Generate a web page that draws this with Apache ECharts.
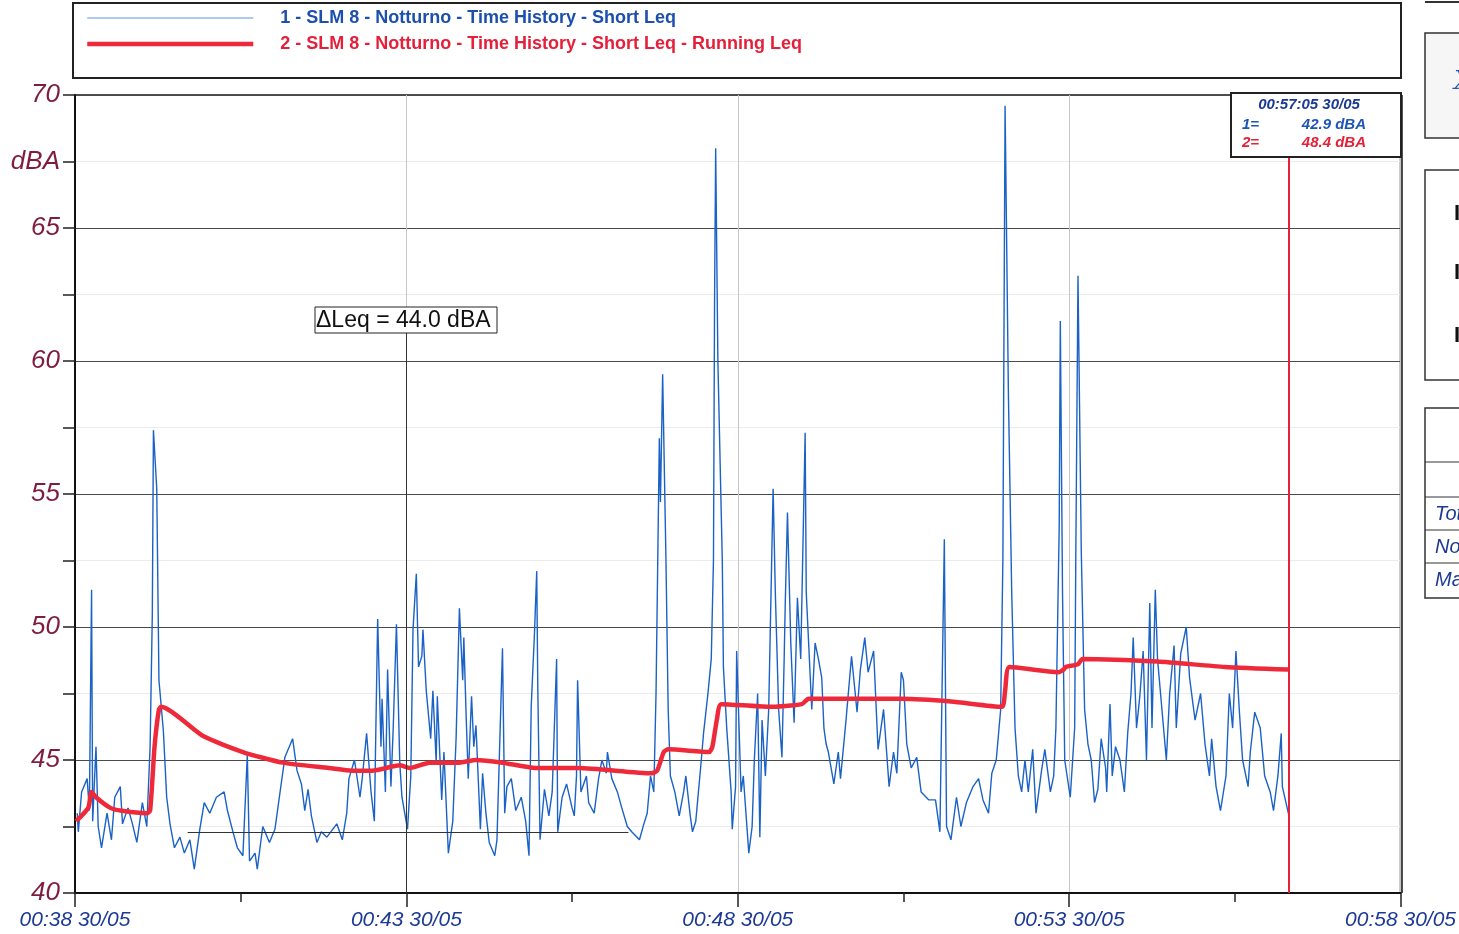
<!DOCTYPE html>
<html>
<head>
<meta charset="utf-8">
<script src="https://cdn.jsdelivr.net/npm/echarts@6/dist/echarts.min.js"></script>
<style>
  html, body { margin: 0; padding: 0; background: #fff; }
  #chart { width: 1459px; height: 934px; }
</style>
</head>
<body>
<div id="chart"></div>
<script>
// seconds from 00:38:00 (30/05)
var blueTime = [2,3,6,11,13,15,16,19,21,24,29,33,36,41,43,48,52,56,61,65,68,70,71,74,76,80,83,86,90,95,99,104,108,113,117,122,128,135,138,143,147,152,156,158,163,165,170,176,181,185,190,194,197,201,205,208,211,214,219,223,228,
  237,242,246,248,253,258,260,264,268,271,274,277,278,281,283,286,288,291,294,296,301,304,306,309,311,314,315,318,322,324,327,328,332,334,338,342,345,348,351,352,354,356,359,361,363,367,369,372,375,380,382,387,389,391,395,399,404,408,411,413,416,418,419,421,425,429,432,436,437,441,445,450,
  452,454,455,458,463,465,470,474,477,481,482,486,491,495,500,504,511,515,518,521,524,526,529,530,532,535,537,539,543,547,551,553,557,559,562,567,569,573,576,578,579,580,582,586,587,590,594,595,598,599,603,605,610,613,615,618,620,622,625,628,632,634,637,640,642,643,645,648,651,654,657,661,662,667,670,
  673,676,678,680,682,687,691,693,698,703,708,711,715,718,723,727,732,737,741,744,748,750,753,757,762,766,773,779,783,787,789,793,798,802,807,813,818,822,827,830,834,838,840,842,845,848,851,854,857,860,863,867,870,875,878,883,886,888,891,892,894,896,901,905,906,908,911,914,917,920,923,926,929,933,934,937,939,942,946,950,953,956,958,961,964,967,970,973,975,978,980,984,988,991,995,997,1001,1006,1009,1014,1019,1023,1027,1029,1033,1037,1042,1045,1048,1051,1054,1057,1062,1064,1068,1073,1077,1082,1085,1089,1092,1093,1099];
var blueLevel = [43.0,42.3,43.8,44.3,43.1,51.4,42.7,45.5,42.5,41.7,43.0,42.0,43.6,44.0,42.6,43.2,42.6,41.9,43.4,42.5,45.5,50.5,57.4,55.2,48.0,46.1,43.6,42.6,41.7,42.1,41.5,42.0,40.9,42.4,43.4,43.0,43.6,43.8,43.1,42.3,41.7,41.4,45.2,41.2,41.5,40.9,42.5,41.9,42.4,43.6,45.1,45.5,45.8,44.6,44.1,43.1,43.9,42.9,41.9,42.3,42.1,
  42.6,42.0,43.0,44.3,45.0,43.6,44.3,46.0,43.8,42.7,50.3,45.5,47.3,43.8,48.4,44.0,46.1,50.1,44.9,43.6,42.4,44.4,49.9,52.0,48.5,48.9,49.9,47.6,45.8,47.6,44.9,47.4,43.5,45.3,41.5,42.7,45.8,50.7,48.0,49.6,46.8,44.3,47.4,45.5,46.3,42.4,44.5,43.0,41.9,41.4,42.0,49.2,43.0,44.0,44.3,43.1,43.6,42.7,41.4,47.0,49.8,52.1,47.6,42.0,43.9,42.9,43.8,48.8,42.3,43.6,44.1,43.2,
  42.9,44.4,48.0,43.8,44.4,43.4,43.0,44.3,45.0,44.5,45.3,44.3,43.8,43.2,42.5,42.3,42.0,42.6,43.0,44.4,43.8,47.5,57.1,54.7,59.5,52.5,46.9,44.4,43.8,42.9,43.8,44.4,42.9,42.3,42.7,45.0,46.0,47.5,48.8,52.5,62.3,68.0,60.0,52.5,48.5,46.2,43.8,42.4,44.0,49.1,43.8,44.4,41.5,42.5,45.0,47.5,42.1,46.5,44.4,46.9,55.2,51.3,46.9,45.1,48.8,50.9,54.3,49.4,46.4,51.1,48.8,57.3,51.3,46.9,49.4,
  48.8,48.1,46.2,45.6,45.3,44.1,45.3,44.3,46.5,48.9,46.8,48.4,49.6,48.3,49.1,45.4,46.9,44.0,45.3,44.5,48.3,48.0,45.6,44.7,45.1,43.8,43.5,43.5,42.3,53.3,42.5,42.0,43.6,42.5,43.4,44.0,44.3,43.5,43.0,44.5,45.0,46.9,52.5,69.6,58.8,51.3,46.2,44.4,43.8,45.0,43.8,45.4,43.0,44.6,45.4,43.8,44.4,46.2,53.8,61.5,51.3,45.0,43.6,46.2,52.5,63.2,52.8,46.9,45.6,45.0,43.4,43.9,45.8,44.7,43.8,47.1,44.4,45.5,45.0,43.8,46.0,47.5,49.6,46.2,47.4,49.1,45.0,50.9,46.2,51.4,48.8,46.9,45.0,47.5,49.3,46.2,49.0,50.0,48.1,46.5,47.5,45.6,44.4,45.8,44.0,43.1,44.4,47.5,46.2,49.1,46.9,45.0,44.0,45.3,46.8,46.2,44.4,43.8,43.1,44.4,46.0,44.0,42.9];

var redTime = [1,12,15,19,32,41,65,68,72,76,78,116,152,188,230,251,269,294,303,321,348,363,387,417,456,522,527,533,537,574,577,581,585,628,658,664,682,748,793,839,842,846,890,895,897,908,912,980,1041,1099];
var redLevel = [42.7,43.2,43.8,43.6,43.2,43.1,43.0,43.1,45.5,46.9,47.0,45.9,45.3,44.9,44.7,44.6,44.6,44.8,44.7,44.9,44.9,45.0,44.9,44.7,44.7,44.5,44.6,45.3,45.4,45.3,45.5,46.5,47.1,47.0,47.1,47.3,47.3,47.3,47.2,47.0,47.6,48.5,48.3,48.4,48.5,48.6,48.8,48.7,48.5,48.4];

var cursorTime = 1099;
var cursorLabel = '00:57:05 30/05';
var cursorValues = ['42.9 dBA', '48.4 dBA'];
var deltaText = '\u0394Leq = 44.0 dBA';
var name1 = '1 - SLM 8 - Notturno - Time History - Short Leq';
var name2 = '2 - SLM 8 - Notturno - Time History - Short Leq - Running Leq';

var FONT = 'Liberation Sans, Arial, sans-serif';

function pairs(t, v) {
  return t.map(function (s, i) { return [s, v[i]]; });
}

var chart = echarts.init(document.getElementById('chart'), null, { renderer: 'canvas' });

var option = {
  animation: false,
  backgroundColor: '#fff',
  grid: {
    left: 75, right: 57, top: 95, bottom: 41,
    show: true, borderColor: '#1a1a1a', borderWidth: 1.5
  },
  legend: {
    orient: 'vertical',
    left: 80, top: 4,
    itemWidth: 166, itemHeight: 14, itemGap: 8,
    textStyle: { fontFamily: FONT, fontSize: 18, fontWeight: 'bold', padding: [0, 0, 0, 22] },
    data: [
      { name: name1, textStyle: { color: '#1d4fae' }, itemStyle: { opacity: 0 }, lineStyle: { width: 1, color: '#5b95dc' } },
      { name: name2, textStyle: { color: '#e4203a' }, itemStyle: { opacity: 0 }, lineStyle: { width: 4.5, color: '#ee2a3a' } }
    ]
  },
  xAxis: {
    type: 'value', min: 0, max: 1200, interval: 300,
    axisLine: { lineStyle: { color: '#111', width: 2 } },
    axisTick: { length: 14, lineStyle: { color: '#222', width: 1.5 } },
    minorTick: { show: true, splitNumber: 2, length: 9, lineStyle: { color: '#222', width: 1.5 } },
    splitLine: { show: true, lineStyle: { color: '#c6c6c6', width: 1 } },
    axisLabel: {
      margin: 17, color: '#1c3a94', fontFamily: FONT, fontSize: 21, fontStyle: 'italic',
      formatter: function (s) {
        var m = 38 + Math.round(s / 60);
        return '00:' + m + ' 30/05';
      }
    }
  },
  yAxis: {
    type: 'value', min: 40, max: 70, interval: 2.5,
    axisLine: { show: true, lineStyle: { color: '#111', width: 2 } },
    axisTick: { show: true, length: 12, lineStyle: { color: '#222', width: 1.5 } },
    splitLine: { show: true, lineStyle: { color: ['#4a4a4a', '#ececec'], width: 1 } },
    axisLabel: {
      margin: 15, color: '#7e1d3d', fontFamily: FONT, fontSize: 26, fontStyle: 'italic',
      formatter: function (v) {
        if (v === 67.5) return 'dBA';
        return v % 5 === 0 ? String(v) : '';
      }
    }
  },
  series: [
    {
      name: name1, type: 'line', data: pairs(blueTime, blueLevel),
      symbol: 'none', showSymbol: false,
      lineStyle: { color: '#1a62c6', width: 1.4 },
      itemStyle: { color: '#1a62c6' },
      z: 3,
      markLine: {
        silent: true, symbol: 'none', label: { show: false },
        lineStyle: { color: '#333', width: 1, type: 'solid' },
        data: [
          [{ coord: [300, 61.05] }, { coord: [300, 40] }],
          [{ coord: [102, 42.3] }, { coord: [501, 42.3] }]
        ]
      }
    },
    {
      name: name2, type: 'line', data: pairs(redTime, redLevel),
      symbol: 'none', showSymbol: false, smooth: 0.2,
      lineStyle: { color: '#ee2a3a', width: 4.5 },
      itemStyle: { color: '#ee2a3a' },
      z: 4,
      markLine: {
        silent: true, symbol: 'none', label: { show: false },
        lineStyle: { color: '#e8213a', width: 2, type: 'solid' },
        data: [[{ coord: [cursorTime, 67.67] }, { coord: [cursorTime, 40] }]]
      }
    }
  ],
  graphic: [
    // legend frame
    { type: 'rect', z: 1, shape: { x: 73, y: 3, width: 1328, height: 75 },
      style: { fill: 'none', stroke: '#222', lineWidth: 2 } },
    // right edge of the plot frame (drawn over the last grid line)
    { type: 'line', z: 50, shape: { x1: 1402, y1: 95, x2: 1402, y2: 893 },
      style: { stroke: '#1a1a1a', lineWidth: 1.5 } },
    // cursor read-out
    { type: 'rect', z: 100, shape: { x: 1231, y: 93, width: 170, height: 64 },
      style: { fill: '#fff', stroke: '#222', lineWidth: 2 } },
    { type: 'text', z: 101, x: 1309, y: 105, style: { text: cursorLabel, fill: '#1c3a94', font: 'italic bold 15px ' + FONT, textAlign: 'center', textVerticalAlign: 'middle' } },
    { type: 'text', z: 101, x: 1242, y: 125, style: { text: '1=', fill: '#1d55b8', font: 'italic bold 15px ' + FONT, textVerticalAlign: 'middle' } },
    { type: 'text', z: 101, x: 1366, y: 125, style: { text: cursorValues[0], fill: '#1d55b8', font: 'italic bold 15px ' + FONT, textAlign: 'right', textVerticalAlign: 'middle' } },
    { type: 'text', z: 101, x: 1242, y: 143, style: { text: '2=', fill: '#e4203a', font: 'italic bold 15px ' + FONT, textVerticalAlign: 'middle' } },
    { type: 'text', z: 101, x: 1366, y: 143, style: { text: cursorValues[1], fill: '#e4203a', font: 'italic bold 15px ' + FONT, textAlign: 'right', textVerticalAlign: 'middle' } },
    // delta Leq box
    { type: 'rect', z: 100, shape: { x: 315, y: 307, width: 182, height: 26 },
      style: { fill: '#fff', stroke: '#222', lineWidth: 1 } },
    { type: 'text', z: 101, x: 316, y: 321, style: { text: deltaText, fill: '#111', font: '23px ' + FONT, textVerticalAlign: 'middle' } },
    // side panels (cut off at the right edge)
    { type: 'line', shape: { x1: 1425, y1: 2, x2: 1459, y2: 2 }, style: { stroke: '#333', lineWidth: 2 } },
    { type: 'rect', shape: { x: 1425, y: 33, width: 60, height: 105 }, style: { fill: '#f6f6f6', stroke: '#333', lineWidth: 1.5 } },
    { type: 'text', x: 1454, y: 82, style: { text: 'X', fill: '#1d55b8', font: 'italic 26px DejaVu Serif, serif', textVerticalAlign: 'middle' } },
    { type: 'rect', shape: { x: 1425, y: 170, width: 60, height: 210 }, style: { fill: '#fff', stroke: '#333', lineWidth: 1.5 } },
    { type: 'text', x: 1454, y: 214, style: { text: 'I', fill: '#111', font: 'bold 22px ' + FONT, textVerticalAlign: 'middle' } },
    { type: 'text', x: 1454, y: 273, style: { text: 'I', fill: '#111', font: 'bold 22px ' + FONT, textVerticalAlign: 'middle' } },
    { type: 'text', x: 1454, y: 336, style: { text: 'I', fill: '#111', font: 'bold 22px ' + FONT, textVerticalAlign: 'middle' } },
    { type: 'rect', shape: { x: 1425, y: 408, width: 60, height: 190 }, style: { fill: '#fff', stroke: '#333', lineWidth: 1.5 } },
    { type: 'line', shape: { x1: 1425, y1: 462, x2: 1459, y2: 462 }, style: { stroke: '#333', lineWidth: 1 } },
    { type: 'line', shape: { x1: 1425, y1: 497, x2: 1459, y2: 497 }, style: { stroke: '#333', lineWidth: 1 } },
    { type: 'line', shape: { x1: 1425, y1: 530, x2: 1459, y2: 530 }, style: { stroke: '#333', lineWidth: 1 } },
    { type: 'line', shape: { x1: 1425, y1: 563, x2: 1459, y2: 563 }, style: { stroke: '#333', lineWidth: 1 } },
    { type: 'text', x: 1435, y: 514, style: { text: 'Totale', fill: '#1c3a94', font: 'italic 20px ' + FONT, textVerticalAlign: 'middle' } },
    { type: 'text', x: 1435, y: 547, style: { text: 'Notturno', fill: '#1c3a94', font: 'italic 20px ' + FONT, textVerticalAlign: 'middle' } },
    { type: 'text', x: 1435, y: 580, style: { text: 'Massimo', fill: '#1c3a94', font: 'italic 20px ' + FONT, textVerticalAlign: 'middle' } }
  ]
};

chart.setOption(option);
</script>
</body>
</html>
